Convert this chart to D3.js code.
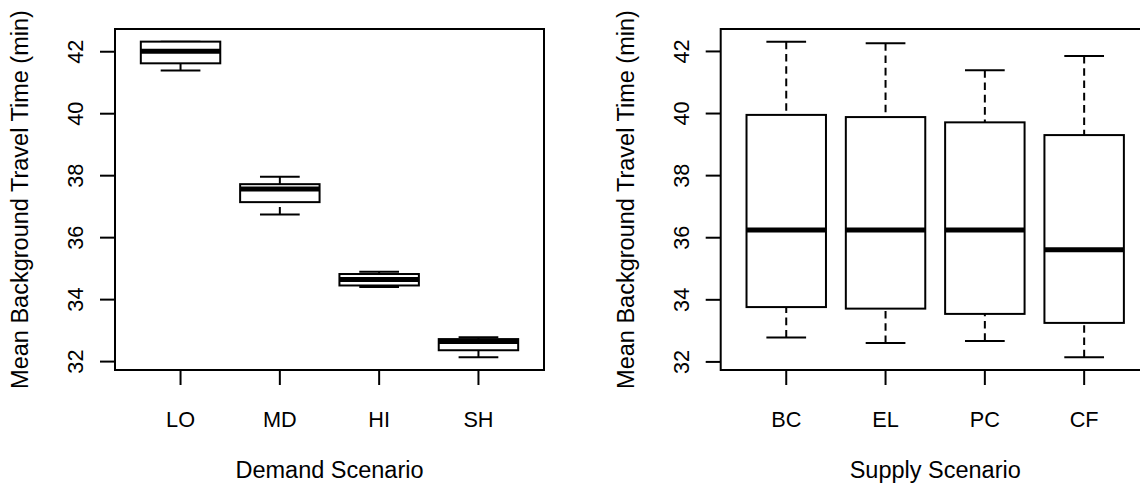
<!DOCTYPE html>
<html>
<head>
<meta charset="utf-8">
<script src="https://cdn.jsdelivr.net/npm/d3@7"></script>
<style>
  html, body { margin: 0; padding: 0; background: #fff; }
  svg { display: block; }
  text { font-family: "Liberation Sans", Arial, Helvetica, sans-serif; fill: #000; }
</style>
</head>
<body>
<svg id="chart" width="1140" height="490"></svg>
<script>
// ---- data ----
const demandCategories = ["LO", "MD", "HI", "SH"];
const demandLowWhisker = [41.38, 36.73, 34.39, 32.12];
const demandQ1         = [41.61, 37.13, 34.44, 32.35];
const demandMedian     = [42.00, 37.55, 34.63, 32.63];
const demandQ3         = [42.31, 37.71, 34.81, 32.71];
const demandHighWhisker= [42.31, 37.95, 34.88, 32.77];

const supplyCategories = ["BC", "EL", "PC", "CF"];
const supplyLowWhisker = [32.77, 32.59, 32.66, 32.13];
const supplyQ1         = [33.75, 33.70, 33.53, 33.24];
const supplyMedian     = [36.23, 36.23, 36.23, 35.60];
const supplyQ3         = [39.94, 39.87, 39.70, 39.29];
const supplyHighWhisker= [42.30, 42.25, 41.38, 41.84];

const yTicks = [32, 34, 36, 38, 40, 42];
const yTitle = "Mean Background Travel Time (min)";
const demandTitle = "Demand Scenario";
const supplyTitle = "Supply Scenario";

// ---- layout ----
const svg = d3.select("#chart");
const TICK_FONT = 21.7;
const TITLE_FONT = 23.5;

function panel(opts) {
  const { left, top, width, height, cats, lo, q1, med, q3, hi, xTitle } = opts;
  const g = svg.append("g");
  const allVals = lo.concat(hi);
  const mn = d3.min(allVals), mx = d3.max(allVals);
  const pad = (mx - mn) * 0.04;
  const y = d3.scaleLinear().domain([mn - pad, mx + pad]).range([top + height, top]);
  const x = d3.scaleBand().domain(cats).range([left, left + width]).paddingInner(0).paddingOuter(0.16);
  const bw = x.bandwidth();
  const cx = c => x(c) + bw / 2;
  const boxW = bw * 0.8;
  const capW = boxW * 0.5;

  const rows = cats.map((c, i) => ({ c, lo: lo[i], q1: q1[i], med: med[i], q3: q3[i], hi: hi[i] }));

  // whiskers (dashed, drawn from whisker end toward hinge)
  g.selectAll(".wu").data(rows).enter().append("line")
    .attr("x1", d => cx(d.c)).attr("x2", d => cx(d.c))
    .attr("y1", d => y(d.hi)).attr("y2", d => y(d.q3))
    .attr("stroke", "#000").attr("stroke-width", 2).attr("stroke-dasharray", "7.6,4.7");
  g.selectAll(".wl").data(rows).enter().append("line")
    .attr("x1", d => cx(d.c)).attr("x2", d => cx(d.c))
    .attr("y1", d => y(d.lo)).attr("y2", d => y(d.q1))
    .attr("stroke", "#000").attr("stroke-width", 2).attr("stroke-dasharray", "7.6,4.7");
  // caps
  g.selectAll(".cu").data(rows).enter().append("line")
    .attr("x1", d => cx(d.c) - capW / 2).attr("x2", d => cx(d.c) + capW / 2)
    .attr("y1", d => y(d.hi)).attr("y2", d => y(d.hi))
    .attr("stroke", "#000").attr("stroke-width", 2);
  g.selectAll(".cl").data(rows).enter().append("line")
    .attr("x1", d => cx(d.c) - capW / 2).attr("x2", d => cx(d.c) + capW / 2)
    .attr("y1", d => y(d.lo)).attr("y2", d => y(d.lo))
    .attr("stroke", "#000").attr("stroke-width", 2);
  // boxes
  g.selectAll(".box").data(rows).enter().append("rect")
    .attr("x", d => cx(d.c) - boxW / 2).attr("width", boxW)
    .attr("y", d => y(d.q3)).attr("height", d => y(d.q1) - y(d.q3))
    .attr("fill", "#fff").attr("stroke", "#000").attr("stroke-width", 2);
  // medians
  g.selectAll(".med").data(rows).enter().append("line")
    .attr("x1", d => cx(d.c) - boxW / 2).attr("x2", d => cx(d.c) + boxW / 2)
    .attr("y1", d => y(d.med)).attr("y2", d => y(d.med))
    .attr("stroke", "#000").attr("stroke-width", 5);

  // frame
  g.append("rect").attr("x", left).attr("y", top).attr("width", width).attr("height", height)
    .attr("fill", "none").attr("stroke", "#000").attr("stroke-width", 2);

  // y axis
  const yAxis = d3.axisLeft(y).tickValues(yTicks).tickSize(15).tickFormat(d3.format("d"));
  const ya = g.append("g").attr("transform", `translate(${left},0)`).call(yAxis);
  ya.select(".domain").remove();
  ya.selectAll(".tick line").attr("stroke", "#000").attr("stroke-width", 2);
  ya.selectAll(".tick text").remove();
  ya.selectAll(".tick").append("text")
    .attr("transform", `translate(-32,0) rotate(-90)`)
    .attr("text-anchor", "middle")
    .style("font-size", TICK_FONT + "px")
    .text(d => d3.format("d")(d));

  // x axis
  const xAxis = d3.axisBottom(x).tickSize(15);
  const xa = g.append("g").attr("transform", `translate(0,${top + height})`).call(xAxis);
  xa.select(".domain").remove();
  xa.selectAll(".tick line").attr("stroke", "#000").attr("stroke-width", 2);
  xa.selectAll(".tick text").remove();
  xa.selectAll(".tick").append("text")
    .attr("transform", `translate(0,57)`)
    .attr("text-anchor", "middle")
    .style("font-size", TICK_FONT + "px")
    .text(d => d);

  // titles
  g.append("text")
    .attr("transform", `translate(${left + width / 2},${top + height + 108})`)
    .attr("text-anchor", "middle").style("font-size", TITLE_FONT + "px").text(xTitle);
  g.append("text")
    .attr("transform", `translate(${left - 87},${top + height / 2}) rotate(-90)`)
    .attr("text-anchor", "middle").style("font-size", TITLE_FONT + "px").text(yTitle);
}

panel({ left: 115, top: 29, width: 429, height: 341, cats: demandCategories,
  lo: demandLowWhisker, q1: demandQ1, med: demandMedian, q3: demandQ3, hi: demandHighWhisker,
  xTitle: demandTitle });
panel({ left: 720.7, top: 29, width: 429, height: 341, cats: supplyCategories,
  lo: supplyLowWhisker, q1: supplyQ1, med: supplyMedian, q3: supplyQ3, hi: supplyHighWhisker,
  xTitle: supplyTitle });
</script>
</body>
</html>
